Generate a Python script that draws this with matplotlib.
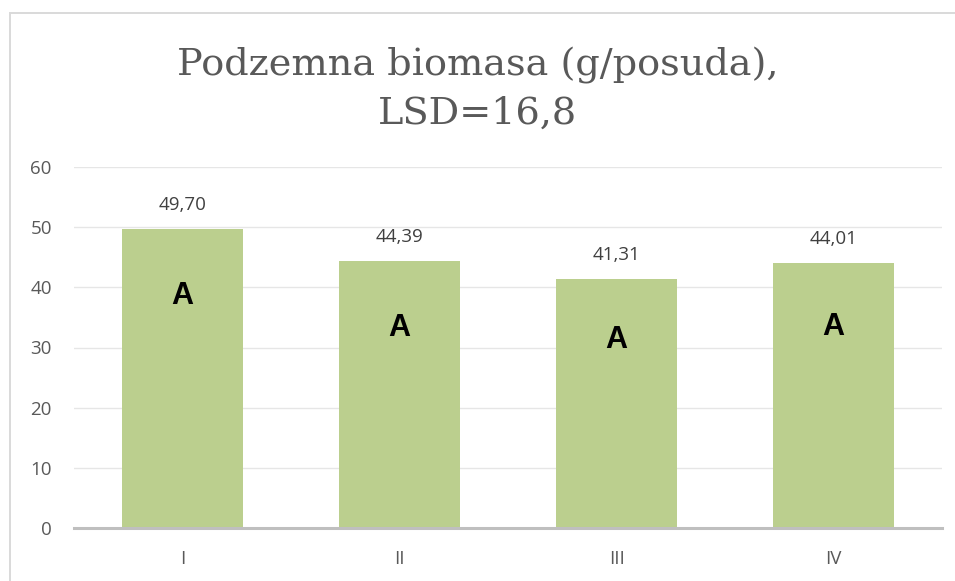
import matplotlib
matplotlib.use("Agg")
import matplotlib.pyplot as plt
from matplotlib.patches import Rectangle

categories = ["I", "II", "III", "IV"]
values = [49.70, 44.39, 41.31, 44.01]
value_labels = ["49,70", "44,39", "41,31", "44,01"]
groups = ["A", "A", "A", "A"]
group_y = [38.6, 33.3, 31.2, 33.4]
yticks = [0, 10, 20, 30, 40, 50, 60]
title_lines = ["Podzemna biomasa (g/posuda),", "LSD=16,8"]

W, H = 955, 581
fig = plt.figure(figsize=(W / 100, H / 100), dpi=100)
fig.patch.set_facecolor("white")

# chart border (top and left visible, extends past the right/bottom edges)
fig.add_artist(Rectangle((10 / W, -0.05), 1.2, (H - 13) / H + 0.05, transform=fig.transFigure,
                         fill=False, edgecolor="#D9D9D9", linewidth=1.4))

left, right = 74 / W, 942 / W
bottom, top = 1 - 528 / H, 1 - 167 / H
ax = fig.add_axes([left, bottom, right - left, top - bottom])

x = range(len(categories))
ax.bar(x, values, width=0.553, color="#BBCF8E", zorder=2)
ax.set_xlim(-0.5, len(categories) - 0.5)
ax.set_ylim(0, 60)
ax.set_yticks(yticks)
ax.set_yticklabels([str(t) for t in yticks])
ax.set_xticks(list(x))
ax.set_xticklabels(categories)

ax.grid(axis="y", color="#E6E6E6", linewidth=1.0, zorder=0)
for s in ["top", "right", "left"]:
    ax.spines[s].set_visible(False)
ax.spines["bottom"].set_color("#BFBFBF")
ax.spines["bottom"].set_linewidth(2.2)
ax.spines["bottom"].set_zorder(3)
ax.tick_params(axis="both", length=0, labelsize=13.5, colors="#595959")
ax.tick_params(axis="y", pad=16)
ax.tick_params(axis="x", pad=16)
for lab in ax.get_xticklabels() + ax.get_yticklabels():
    lab.set_fontfamily("Open Sans")

for i, (v, lab) in enumerate(zip(values, value_labels)):
    ax.annotate(lab, (i, v), xytext=(0, 11), textcoords="offset points",
                ha="center", va="bottom", fontsize=13.5, color="#404040",
                fontfamily="Open Sans")
for i, (g, gy) in enumerate(zip(groups, group_y)):
    ax.text(i, gy, g, ha="center", va="center", fontsize=22, fontweight="bold",
            color="black", fontfamily="Liberation Sans", zorder=4)

fig.text(0.5, 1 - 75 / H, title_lines[0], ha="center", va="baseline", fontsize=27.5,
         color="#595959", fontfamily="DejaVu Serif")
fig.text(0.5, 1 - 124 / H, title_lines[1], ha="center", va="baseline", fontsize=27.5,
         color="#595959", fontfamily="DejaVu Serif")

fig.savefig("out.png", dpi=100)
